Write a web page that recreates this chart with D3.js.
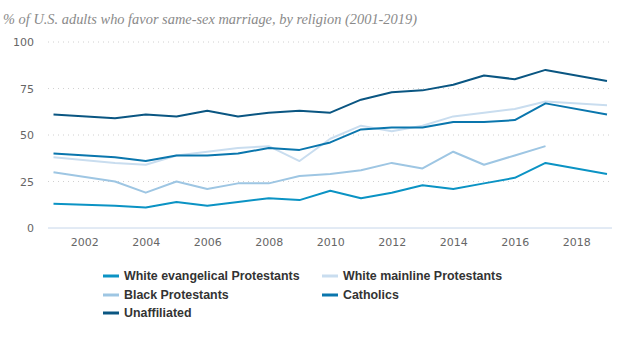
<!DOCTYPE html>
<html>
<head>
<meta charset="utf-8">
<script src="https://cdn.jsdelivr.net/npm/d3@7"></script>
<style>
  body { margin:0; background:#fff; }
  .tick text { font-family:"DejaVu Sans", Verdana, sans-serif; font-size:11px; fill:#666; }
  .legend text { font-family:"Liberation Sans", Arial, sans-serif; font-weight:bold; font-size:12.4px; fill:#333; }
</style>
</head>
<body>
<script>
var years = [2001,2003,2004,2005,2006,2007,2008,2009,2010,2011,2012,2013,2014,2015,2016,2017,2019];
var evangelical = [13,12,11,14,12,14,16,15,20,16,19,23,21,24,27,35,29];
var mainline    = [38,35,34,39,41,43,44,36,48,55,52,55,60,62,64,68,66];
var black       = [30,25,19,25,21,24,24,28,29,31,35,32,41,34,39,44,null];
var catholics   = [40,38,36,39,39,40,43,42,46,53,54,54,57,57,58,67,61];
var unaffiliated= [61,59,61,60,63,60,62,63,62,69,73,74,77,82,80,85,79];
var seriesNames = ["White evangelical Protestants","White mainline Protestants","Black Protestants","Catholics","Unaffiliated"];
var seriesColors = ["#0b93c4","#c9ddef","#9ec6e3","#0a76ad","#0a5682"];
var xTicks = [2002,2004,2006,2008,2010,2012,2014,2016,2018];
var yTicks = [0,25,50,75,100];

var W=641, H=361;
var svg = d3.select("body").append("svg").attr("width",W).attr("height",H);

svg.append("text").attr("x",3).attr("y",24)
  .attr("font-family","'Liberation Serif', Georgia, serif").attr("font-style","italic")
  .attr("font-size","14.4px").attr("fill","#8a8a8a")
  .text("% of U.S. adults who favor same-sex marriage, by religion (2001-2019)");

var x = d3.scaleLinear().domain([2001,2019]).range([53.5,607]);
var y = d3.scaleLinear().domain([0,100]).range([228,42]);

// gridlines
svg.append("g").selectAll("line").data(yTicks.filter(function(d){return d>0;})).enter().append("line")
  .attr("x1",48).attr("x2",609).attr("y1",function(d){return y(d);}).attr("y2",function(d){return y(d);})
  .attr("stroke","#d0d0d0").attr("stroke-dasharray","1,4");

var yAxis = svg.append("g").attr("transform","translate(38,0)")
  .call(d3.axisLeft(y).tickValues(yTicks).tickSize(0).tickPadding(4));
yAxis.select(".domain").remove();

var xAxis = svg.append("g").attr("transform","translate(0,228)")
  .call(d3.axisBottom(x).tickValues(xTicks).tickFormat(d3.format("d")).tickSize(0).tickPadding(10));
xAxis.select(".domain").remove();
svg.append("line").attr("x1",48).attr("x2",612).attr("y1",228).attr("y2",228).attr("stroke","#c6d6ea").attr("stroke-width",1);

var allSeries = [evangelical, mainline, black, catholics, unaffiliated];
var line = d3.line().defined(function(d){return d.v!=null;})
  .x(function(d){return x(d.year);}).y(function(d){return y(d.v);});

allSeries.forEach(function(s,i){
  svg.append("path")
    .datum(years.map(function(yr,j){return {year:yr, v:s[j]};}))
    .attr("fill","none").attr("stroke",seriesColors[i]).attr("stroke-width",2)
    .attr("stroke-linejoin","round")
    .attr("d",line);
});

// legend
var legPos = [[103,276],[322,276],[103,295],[322,295],[103,313]];
var leg = svg.append("g").attr("class","legend");
seriesNames.forEach(function(n,i){
  var g = leg.append("g").attr("transform","translate("+legPos[i][0]+","+legPos[i][1]+")");
  g.append("line").attr("x1",0).attr("x2",16).attr("y1",0).attr("y2",0)
    .attr("stroke",seriesColors[i]).attr("stroke-width",3);
  g.append("text").attr("x",21).attr("y",4).text(n);
});
</script>
</body>
</html>
